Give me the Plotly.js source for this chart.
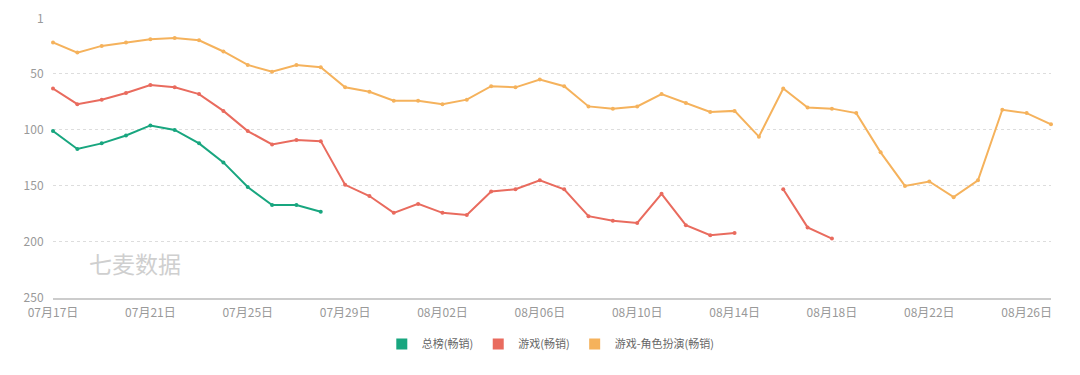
<!DOCTYPE html>
<html>
<head>
<meta charset="utf-8">
<script src="https://cdn.plot.ly/plotly-3.0.1.min.js"></script>
<style>html,body{margin:0;padding:0;background:#fff;}#chart{width:1080px;height:375px;}</style>
</head>
<body>
<div id="chart"></div>
<script>
const dates = ["07月17日","07月18日","07月19日","07月20日","07月21日","07月22日","07月23日","07月24日","07月25日","07月26日","07月27日","07月28日","07月29日","07月30日","07月31日","08月01日","08月02日","08月03日","08月04日","08月05日","08月06日","08月07日","08月08日","08月09日","08月10日","08月11日","08月12日","08月13日","08月14日","08月15日","08月16日","08月17日","08月18日","08月19日","08月20日","08月21日","08月22日","08月23日","08月24日","08月25日","08月26日","08月27日"];
const tickLabels = ["07月17日","07月21日","07月25日","07月29日","08月02日","08月06日","08月10日","08月14日","08月18日","08月22日","08月26日"];
const yTicks = [1, 50, 100, 150, 200, 250];
const seriesNames = ["总榜(畅销)", "游戏(畅销)", "游戏-角色扮演(畅销)"];
const colors = ["#18a67f", "#e96b5e", "#f5b25c"];
const overall = [101,117,112,105,96,100,112,129,151,167,167,173,null,null,null,null,null,null,null,null,null,null,null,null,null,null,null,null,null,null,null,null,null,null,null,null,null,null,null,null,null,null];
const games = [63,77,73,67,60,62,68,83,101,113,109,110,149,159,174,166,174,176,155,153,145,153,177,181,183,157,185,194,192,null,153,187,197,null,null,null,null,null,null,null,null,null];
const rpg = [22,31,25,22,19,18,20,30,42,48,42,44,62,66,74,74,77,73,61,62,55,61,79,81,79,68,76,84,83,106,63,80,81,85,120,150,146,160,145,82,85,95];
const allSeries = [overall, games, rpg];

const traces = [];
allSeries.forEach((vals, i) => {
  traces.push({
    x: dates, y: vals, type: 'scatter', mode: 'lines+markers',
    name: seriesNames[i], showlegend: false, connectgaps: false,
    line: {color: colors[i], width: 2},
    marker: {color: colors[i], size: 4},
    cliponaxis: false, hoverinfo: 'skip'
  });
});
allSeries.forEach((vals, i) => {
  traces.push({
    x: [null], y: [null], type: 'scatter', mode: 'markers',
    name: seriesNames[i], showlegend: true,
    marker: {color: colors[i], size: 11, symbol: 'square'}
  });
});

const layout = {
  width: 1080, height: 375,
  margin: {l: 53, r: 29, t: 19, b: 77, autoexpand: false},
  paper_bgcolor: '#fff', plot_bgcolor: '#fff',
  font: {family: '"Noto Sans CJK SC", "Noto Sans", sans-serif', color: '#999', size: 12},
  showlegend: true,
  legend: {orientation: 'h', x: 0.51, xanchor: 'center', xref: 'container',
           y: 0.083, yanchor: 'middle', yref: 'container',
           font: {size: 11, color: '#666'}, itemwidth: 30, tracegroupgap: 0},
  xaxis: {
    type: 'category', categoryorder: 'array', categoryarray: dates,
    range: [0, dates.length - 1],
    tickmode: 'array', tickvals: tickLabels, ticktext: tickLabels,
    showgrid: false, zeroline: false,
    showline: true, linecolor: '#ccc', linewidth: 2,
    ticks: 'outside', ticklen: 3, tickcolor: 'rgba(0,0,0,0)',
    tickfont: {size: 12, color: '#999'}, tickangle: 0,
    fixedrange: true
  },
  yaxis: {
    range: [250, 1], tickmode: 'array', tickvals: yTicks, ticktext: yTicks.map(String),
    showgrid: true, gridcolor: '#ddd', griddash: 'dot', gridwidth: 1,
    zeroline: false, showline: false, ticks: 'outside', ticklen: 6, tickcolor: 'rgba(0,0,0,0)',
    tickfont: {size: 12, color: '#999'}, fixedrange: true
  },
  annotations: [{
    text: '七麦数据', xref: 'paper', yref: 'paper', x: 0.034, y: 0.125,
    xanchor: 'left', yanchor: 'middle', showarrow: false,
    font: {size: 23, color: '#cfcfcf', family: '"Noto Sans CJK SC", sans-serif'}
  }]
};

Plotly.newPlot('chart', traces, layout, {displayModeBar: false, staticPlot: true});
</script>
</body>
</html>
